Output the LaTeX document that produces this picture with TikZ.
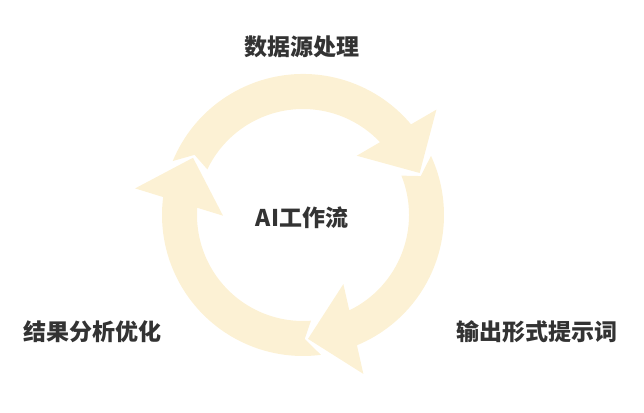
\documentclass[tikz,border=0pt]{standalone}
\usepackage{fontspec}
\newfontfamily\cjk{Noto Sans CJK SC}
\definecolor{ringcol}{RGB}{252,241,212}
\definecolor{labelcol}{RGB}{51,51,51}
\begin{document}
\begin{tikzpicture}[x=1pt,y=1pt,
	ring/.style={fill=ringcol},
	lbl/.style={font=\cjk\bfseries\fontsize{23}{27}\selectfont,text=labelcol,inner sep=0pt}]
	\useasboundingbox(0,0)rectangle(644,412);
	\begin{scope}[shift={(303,197)}]
		% top arrow
		\fill[ring](157.5:141)arc[start angle=157.5,end angle=40,radius=141]--(38.3:170)--(19.8:124)--(47.8:80)--(43.4:106)arc[start angle=43.4,end angle=154.5,radius=106]--(151:124)--cycle;
		% right arrow
		\fill[ring](24.8:141)arc[start angle=24.8,end angle=-67.5,radius=141]--(-69.2:170)--(-87.7:124)--(-59.7:80)--(-64.1:106)arc[start angle=-64.1,end angle=21.8,radius=106]--(18.3:124)--cycle;
		% left arrow
		\fill[ring](277.3:141)arc[start angle=277.3,end angle=172.7,radius=141]--(171:170)--(152.5:124)--(180.5:80)--(176.1:106)arc[start angle=176.1,end angle=274.3,radius=106]--(270.8:124)--cycle;
	\end{scope}
	\node[lbl](center)at(302,194.5){AI工作流};
	\node[lbl](source)at(302,365){数据源处理};
	\node[lbl](prompt)at(537,80){输出形式提示词};
	\node[lbl](review)at(92,80){结果分析优化};
\end{tikzpicture}
\end{document}
